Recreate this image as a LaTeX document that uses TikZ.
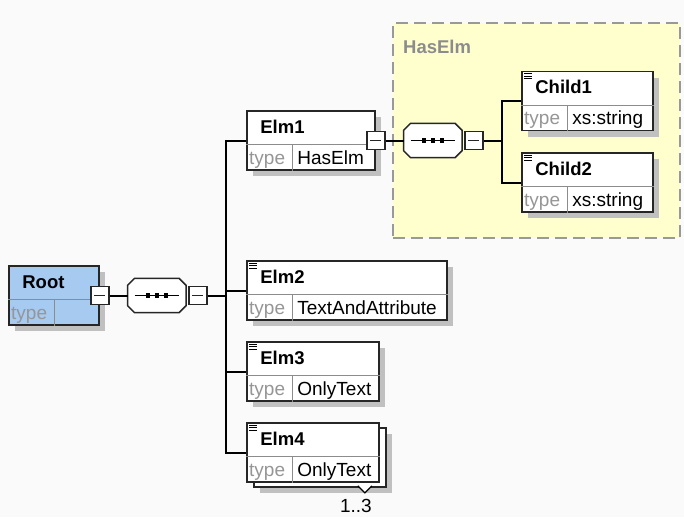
\documentclass[tikz,border=0pt]{standalone}
\usepackage{fontspec}
\setmainfont{Liberation Sans}
\usetikzlibrary{shadows,positioning}

\definecolor{rootblue}{RGB}{166,202,240}
\definecolor{grpyellow}{RGB}{255,255,206}
\definecolor{shadowgray}{RGB}{192,192,192}
\definecolor{keygray}{RGB}{150,150,150}
\definecolor{bggray}{RGB}{250,250,250}

\tikzset{
  elm/.style={draw=black!85, fill=white, line width=1.7pt, minimum height=59pt, inner sep=0pt},
  shad/.style={drop shadow={shadow xshift=6pt, shadow yshift=-6pt, fill=shadowgray, opacity=1}},
  divline/.style={draw=black!45, line width=1.1pt},
  title/.style={font=\fontsize{18.5}{20}\selectfont\bfseries, inner sep=0pt},
  typekey/.style={text=keygray, inner sep=0pt},
  typeval/.style={inner sep=0pt},
  minus/.style={draw=black!85, fill=white, line width=1.5pt, minimum size=18pt, inner sep=0pt,
    path picture={\draw[line width=1.1pt] ([xshift=3.5pt]path picture bounding box.west)
      -- ([xshift=-3.5pt]path picture bounding box.east);}},
  seq/.style={minimum width=58pt, minimum height=34pt, inner sep=0pt},
  conn/.style={draw=black, line width=2pt},
  grp/.style={draw=black!40, dash pattern=on 12pt off 6pt, fill=grpyellow, line width=1.3pt},
}

% element box: [extra options] name, centre, width, title, type
\newcommand{\elmbox}[6][shad]{%
  \node[elm, #1, minimum width=#4] (#2) at #3 {};
  \draw[divline] ([yshift=26pt]#2.south west) -- ([yshift=26pt]#2.south east);
  \draw[divline] ([xshift=46pt]#2.south west) -- ([xshift=46pt,yshift=26pt]#2.south west);
  \node[title, anchor=base west] (#2-t) at ([xshift=14pt,yshift=-23pt]#2.north west) {#5};
  \node[typekey, anchor=base] (#2-k) at ([xshift=21pt,yshift=6.5pt]#2.south west) {type};
  \node[typeval, anchor=base west] (#2-v) at ([xshift=51pt,yshift=6.5pt]#2.south west) {#6};
}
% simple type mark
\newcommand{\simpmark}[1]{%
  \foreach \k in {3,5.5,8}
    \draw[line width=0.9pt] ([xshift=3pt,yshift=-\k pt]#1.north west) -- ++(8pt,0);
}
% octagon of a sequence node
\newcommand{\octo}[1]{%
  ([xshift=7pt]#1.north west) -- ([xshift=-7pt]#1.north east) -- ([yshift=-7pt]#1.north east)
  -- ([yshift=7pt]#1.south east) -- ([xshift=-7pt]#1.south east) -- ([xshift=7pt]#1.south west)
  -- ([yshift=7pt]#1.south west) -- ([yshift=-7pt]#1.north west) -- cycle}
\newcommand{\seqmark}[1]{%
  \fill[shadowgray, shift={(6pt,-6pt)}] \octo{#1};
  \draw[draw=black!85, fill=white, line width=1.5pt] \octo{#1};
  \draw[line width=1.1pt] ([xshift=7pt]#1.west) -- ([xshift=-7pt]#1.east);
  \foreach \d in {-9,0,9}
    \fill ([xshift=\d pt-2.2pt, yshift=-2.2pt]#1.center) rectangle ++(4.4pt,4.4pt);
}

\begin{document}
\begin{tikzpicture}[x=1pt, y=-1pt, font=\fontsize{19}{21}\selectfont]
\fill[bggray] (0,0) rectangle (684,517);
\useasboundingbox (0,0) rectangle (684,517);

% group HasElm
\node[grp, minimum width=287pt, minimum height=215pt] (grp) at (536.5,130.5) {};
\node[title, text=black!45, anchor=base west] (grplbl) at (403,53) {HasElm};

% elements
\elmbox[shad, fill=rootblue]{root}{(54,295.5)}{90pt}{Root}{}
\elmbox{elm1}{(311,140.5)}{128pt}{Elm1}{HasElm}
\elmbox{elm2}{(347,290.5)}{200pt}{Elm2}{TextAndAttribute}
\elmbox{elm3}{(313,371.5)}{132pt}{Elm3}{OnlyText}
\node[elm, shad, minimum width=132pt] (elm4b) at (320,457.5) {};
\elmbox[fill=white]{elm4}{(313,452.5)}{132pt}{Elm4}{OnlyText}
\elmbox{child1}{(587.5,101)}{131pt}{Child1}{xs:string}
\elmbox{child2}{(587.5,182.5)}{131pt}{Child2}{xs:string}
\simpmark{elm2}
\simpmark{elm3}
\simpmark{elm4}
\simpmark{child1}
\simpmark{child2}

% sequences
\node[minus] (rootm) at (root.east) {};
\node[seq, right=18pt of rootm] (seq0) {};
\seqmark{seq0}
\node[minus, right=2pt of seq0] (seq0m) {};
\coordinate[right=18pt of seq0m] (tr0);

\node[minus] (elm1m) at (elm1.east) {};
\node[seq, right=18pt of elm1m] (seq1) {};
\seqmark{seq1}
\node[minus, right=2pt of seq1] (seq1m) {};
\coordinate[right=18pt of seq1m] (tr1);

% connectors
\draw[conn] (rootm) -- (seq0);
\draw[conn] (seq0m) -- (tr0);
\draw[conn] (elm1) -| (tr0) |- (elm4);
\draw[conn] (tr0 |- elm2.west) -- (elm2);
\draw[conn] (tr0 |- elm3.west) -- (elm3);
\draw[conn] (elm1m) -- (seq1);
\draw[conn] (seq1m) -- (tr1);
\draw[conn] (child1) -| (tr1) |- (child2);

% occurrence
\draw[conn, fill=white, line width=1.2pt] ([xshift=-29pt,yshift=2pt]elm4b.south east) -- ++(7pt,-7pt) -- ++(7pt,7pt);
\node (occ) at ([xshift=-31pt,yshift=-18pt]elm4b.south east) {1..3};
\end{tikzpicture}
\end{document}
